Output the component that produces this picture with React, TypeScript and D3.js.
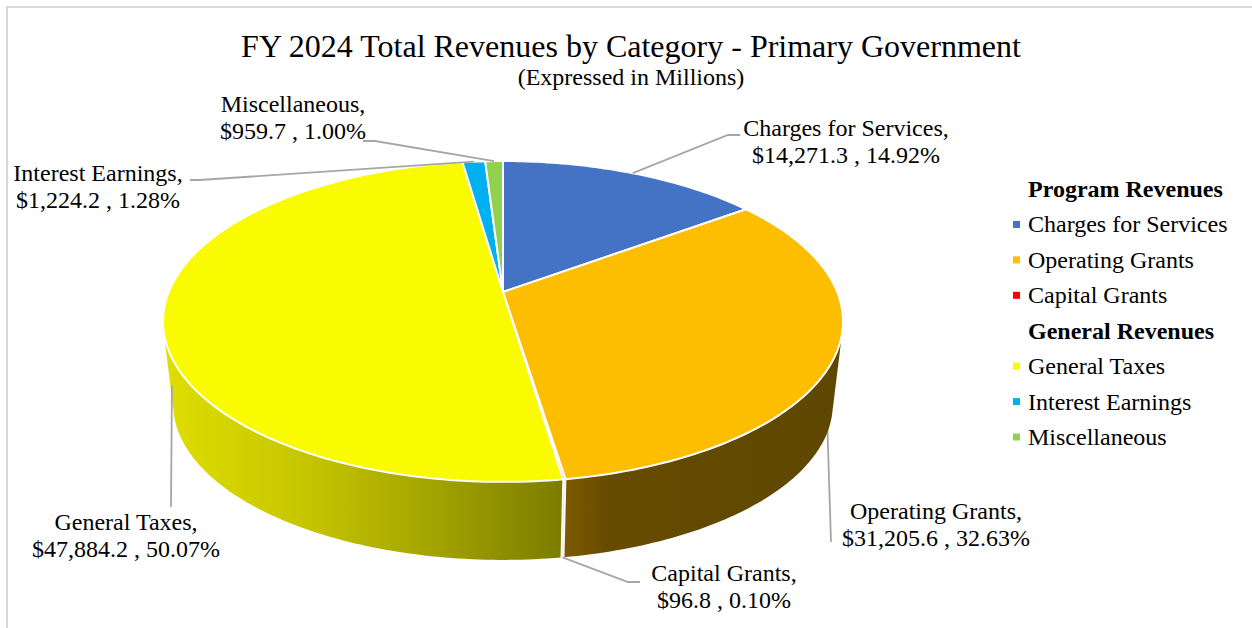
import React from "react";
import * as d3 from "d3";

const titleText = "FY 2024 Total Revenues by Category - Primary Government";
const subtitleText = "(Expressed in Millions)";
const categories = ["Charges for Services", "Operating Grants", "Capital Grants", "General Taxes", "Interest Earnings", "Miscellaneous"];
const values = [14271.3, 31205.6, 96.8, 47884.2, 1224.2, 959.7];
const valueLabels = ["$14,271.3 , 14.92%", "$31,205.6 , 32.63%", "$96.8 , 0.10%", "$47,884.2 , 50.07%", "$1,224.2 , 1.28%", "$959.7 , 1.00%"];
const colors = ["#4472C4", "#FDBD00", "#FF0000", "#FAFA00", "#00B0F0", "#92D050"];
const legendRows = [
  { text: "Program Revenues", index: -1 },
  { text: "Charges for Services", index: 0 },
  { text: "Operating Grants", index: 1 },
  { text: "Capital Grants", index: 2 },
  { text: "General Revenues", index: -1 },
  { text: "General Taxes", index: 3 },
  { text: "Interest Earnings", index: 4 },
  { text: "Miscellaneous", index: 5 },
];

const FONT = "'Liberation Serif', 'Times New Roman', serif";
const W = 1252;
const H = 628;

// perspective projection of the disc
const CX = 503;
const K = 0.1837;
const A = 334.2;
const B = 155;
const TOP_Y = 292;
const BOT_Y = 375.7;
const BOT_S = 0.97;

function project(theta: number, depth: number): [number, number] {
  const u = Math.sin(theta);
  const v = Math.cos(theta);
  const w = 1 + K * v;
  const s = 1 + (BOT_S - 1) * depth;
  const y0 = TOP_Y + (BOT_Y - TOP_Y) * depth;
  return [CX + (s * A * u) / w, y0 - (s * B * v) / w];
}

const arcs = d3.pie<number>().sort(null).startAngle(0).endAngle(2 * Math.PI)(values);

function rim(a: number, b: number, depth: number): [number, number][] {
  const n = Math.max(2, Math.ceil(((b - a) * 180) / Math.PI));
  const t = d3.scaleLinear().domain([0, n]).range([a, b]);
  return d3.range(n + 1).map((i) => project(t(i), depth));
}

const line = d3.line<[number, number]>();
const midAngle = (i: number) => (arcs[i].startAngle + arcs[i].endAngle) / 2;

const topPath = (i: number) => line([[CX, TOP_Y], ...rim(arcs[i].startAngle, arcs[i].endAngle, 0)]) + "Z";
const sidePath = (i: number) => {
  const hull = d3.polygonHull([...rim(arcs[i].startAngle, arcs[i].endAngle, 0), ...rim(arcs[i].startAngle, arcs[i].endAngle, 1)]);
  return hull ? line(hull) + "Z" : "";
};

// label placement: centre x, first baseline, leader depth on the wall, and the leader's outer points
const labelLayout = [
  { x: 846, y: 136, depth: 0, leader: [[728, 135], [740, 135]] },
  { x: 936, y: 519, depth: 0.8, leader: [[831, 542]] },
  { x: 724, y: 581, depth: 1, leader: [[628, 582], [640, 582]] },
  { x: 126, y: 530, depth: 0.85, leader: [[171, 507]] },
  { x: 98, y: 181, depth: 0, leader: [[200, 180], [190, 180]] },
  { x: 293, y: 112, depth: 0, leader: [[375, 141], [363, 141]] },
];
const legendY = d3.scaleLinear().domain([0, 7]).range([197, 445]);
const leaderPath = (i: number) =>
  line([project(midAngle(i), labelLayout[i].depth), ...(labelLayout[i].leader as [number, number][])]) || "";

export default function App() {
  return (
    <svg width={W} height={H} viewBox={`0 0 ${W} ${H}`} style={{ position: "absolute", left: 0, top: 0, display: "block" }} fontFamily={FONT}>
      <defs>
        <linearGradient id="side-3" gradientUnits="userSpaceOnUse" x1={165} x2={563} y1={0} y2={0}>
          <stop offset="0" stopColor="#DEDE00" />
          <stop offset="0.35" stopColor="#C6C600" />
          <stop offset="0.7" stopColor="#A0A000" />
          <stop offset="1" stopColor="#7C7C00" />
        </linearGradient>
        <linearGradient id="side-1" gradientUnits="userSpaceOnUse" x1={566} x2={843} y1={0} y2={0}>
          <stop offset="0" stopColor="#7D5A00" />
          <stop offset="0.15" stopColor="#674B00" />
          <stop offset="1" stopColor="#5E4700" />
        </linearGradient>
      </defs>
      <rect x={0} y={0} width={W} height={H} fill="#fff" />
      <path d="M7,628V7H1252" fill="none" stroke="#D9D9D9" strokeWidth={2} />

      <text x={631} y={57} textAnchor="middle" fontSize={32} fill="#000">{titleText}</text>
      <text x={631} y={85} textAnchor="middle" fontSize={24} fill="#000">{subtitleText}</text>

      <path d={leaderPath(1)} fill="none" stroke="#A6A6A6" strokeWidth={1.8} />

      {[0, 5, 4, 1, 3].map((i) => (
        <path key={i} d={sidePath(i)} fill={i === 3 ? "url(#side-3)" : i === 1 ? "url(#side-1)" : d3.color(colors[i])!.darker(1.5).formatHex()} />
      ))}
      <path d={sidePath(2)} fill="#F6E6E6" stroke="#FBFBFB" strokeWidth={1.5} />

      {[2, 0, 1, 3, 4, 5].map((i) => (
        <path key={i} d={topPath(i)} fill={colors[i]} stroke="#fff" strokeWidth={2} strokeLinejoin="round" />
      ))}

      {labelLayout.map((l, i) =>
        i === 1 ? null : <path key={i} d={leaderPath(i)} fill="none" stroke="#A6A6A6" strokeWidth={1.8} />
      )}

      {labelLayout.map((l, i) => (
        <text key={i} x={l.x} textAnchor="middle" fontSize={24} fill="#000">
          <tspan x={l.x} y={l.y}>{categories[i] + ","}</tspan>
          <tspan x={l.x} y={l.y + 27}>{valueLabels[i]}</tspan>
        </text>
      ))}

      {legendRows.map((r, i) => (
        <g key={i}>
          {r.index >= 0 && <rect x={1013} y={legendY(i) - 11.5} width={7} height={7} fill={colors[r.index]} />}
          <text x={1028} y={legendY(i)} fontSize={24} fontWeight={r.index < 0 ? 700 : 400} fill="#000">{r.text}</text>
        </g>
      ))}
    </svg>
  );
}
